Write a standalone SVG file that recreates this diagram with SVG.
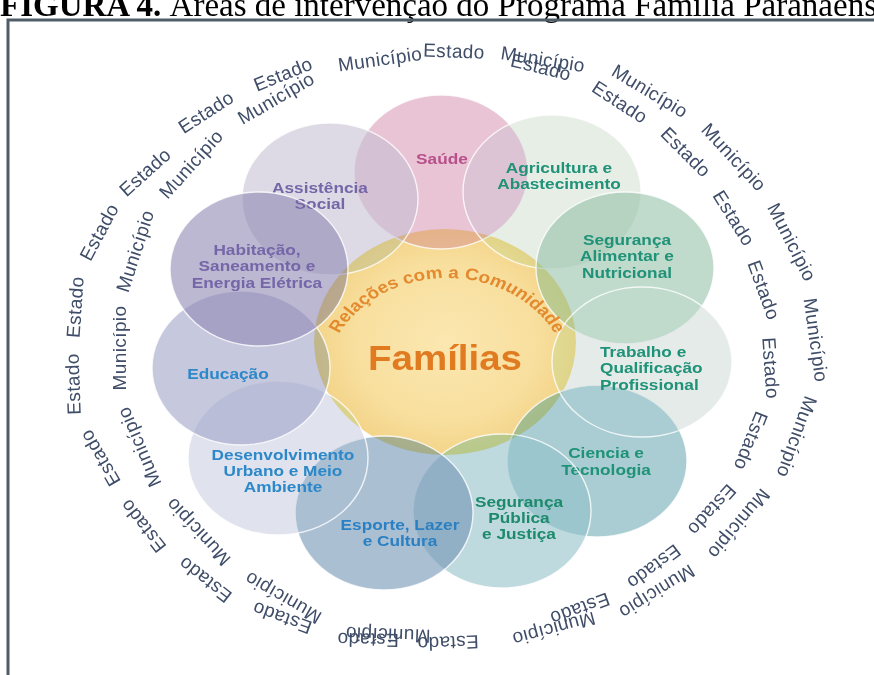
<svg xmlns="http://www.w3.org/2000/svg" width="874" height="675" viewBox="0 0 874 675">
<defs>
<radialGradient id="gYellow" cx="50%" cy="50%" r="50%">
<stop offset="0" stop-color="#fbe7b0"/>
<stop offset="0.7" stop-color="#f8df9e"/>
<stop offset="1" stop-color="#f3d489"/>
</radialGradient>
<path id="arcRel" d="M -107,385 A 107 107 0 0 1 107,385"/>
<style>
.petal{mix-blend-mode:darken;fill-opacity:0.6}
.edge{fill:none;stroke:#ffffff;stroke-width:1.4;stroke-opacity:0.8}
.lbl{font-family:"Liberation Sans",Arial,sans-serif;font-weight:bold;font-size:15px;text-anchor:middle}
.lbls{font-family:"Liberation Sans",Arial,sans-serif;font-weight:bold;font-size:15px;text-anchor:start}
.ring{font-family:"Liberation Sans",Arial,sans-serif;font-size:19px;fill:#3f4d68;text-anchor:middle;letter-spacing:0.4px}
.purple{fill:#7566a8}.blue{fill:#2c88c8}.teal{fill:#1f9278}
</style>
</defs>
<rect width="874" height="675" fill="#ffffff"/>
<text x="0" y="16" font-family="Liberation Serif,Times New Roman,serif" font-size="33" fill="#000"><tspan font-weight="bold">FIGURA 4.</tspan> Áreas de intervenção do Programa Família Paranaense</text>
<path d="M8,675 V20 H874" fill="none" stroke="#4f5d68" stroke-width="3"/>

<g id="ring">
<text class="ring" transform="translate(75,307) rotate(-86)" dy="0.35em">Estado</text>
<text class="ring" transform="translate(135,251) rotate(-72)" dy="0.35em">Município</text>
<text class="ring" transform="translate(99,232) rotate(-62)" dy="0.35em">Estado</text>
<text class="ring" transform="translate(191,164) rotate(-48)" dy="0.35em">Município</text>
<text class="ring" transform="translate(145,172) rotate(-42)" dy="0.35em">Estado</text>
<text class="ring" transform="translate(206,112) rotate(-33)" dy="0.35em">Estado</text>
<text class="ring" transform="translate(276,98) rotate(-30)" dy="0.35em">Município</text>
<text class="ring" transform="translate(283,74) rotate(-22)" dy="0.35em">Estado</text>
<text class="ring" transform="translate(380,59) rotate(-8)" dy="0.35em">Município</text>
<text class="ring" transform="translate(454,51) rotate(2)" dy="0.35em">Estado</text>
<text class="ring" transform="translate(543,59) rotate(9)" dy="0.35em">Município</text>
<text class="ring" transform="translate(541,67) rotate(14)" dy="0.35em">Estado</text>
<text class="ring" transform="translate(650,91) rotate(31)" dy="0.35em">Município</text>
<text class="ring" transform="translate(620,102) rotate(33)" dy="0.35em">Estado</text>
<text class="ring" transform="translate(734,157) rotate(47)" dy="0.35em">Município</text>
<text class="ring" transform="translate(686,152) rotate(45)" dy="0.35em">Estado</text>
<text class="ring" transform="translate(792,242) rotate(63)" dy="0.35em">Município</text>
<text class="ring" transform="translate(734,218) rotate(58)" dy="0.35em">Estado</text>
<text class="ring" transform="translate(764,290) rotate(70)" dy="0.35em">Estado</text>
<text class="ring" transform="translate(816,340) rotate(82)" dy="0.35em">Município</text>
<text class="ring" transform="translate(771,368) rotate(86)" dy="0.35em">Estado</text>
<text class="ring" transform="translate(797,437) rotate(110)" dy="0.35em">Município</text>
<text class="ring" transform="translate(751,441) rotate(112)" dy="0.35em">Estado</text>
<text class="ring" transform="translate(712,510) rotate(132)" dy="0.35em">Estado</text>
<text class="ring" transform="translate(739,524) rotate(130)" dy="0.35em">Município</text>
<text class="ring" transform="translate(654,567) rotate(143)" dy="0.35em">Estado</text>
<text class="ring" transform="translate(657,592) rotate(148)" dy="0.35em">Município</text>
<text class="ring" transform="translate(580,609) rotate(160)" dy="0.35em">Estado</text>
<text class="ring" transform="translate(554,629) rotate(165)" dy="0.35em">Município</text>
<text class="ring" transform="translate(448,643) rotate(178)" dy="0.35em">Estado</text>
<text class="ring" transform="translate(388,635) rotate(182)" dy="0.35em">Município</text>
<text class="ring" transform="translate(368,640) rotate(181)" dy="0.35em">Estado</text>
<text class="ring" transform="translate(283,598) rotate(210)" dy="0.35em">Município</text>
<text class="ring" transform="translate(282,618) rotate(200)" dy="0.35em">Estado</text>
<text class="ring" transform="translate(205,580) rotate(218)" dy="0.35em">Estado</text>
<text class="ring" transform="translate(198,532) rotate(227)" dy="0.35em">Município</text>
<text class="ring" transform="translate(143,526) rotate(232)" dy="0.35em">Estado</text>
<text class="ring" transform="translate(139,447) rotate(247)" dy="0.35em">Município</text>
<text class="ring" transform="translate(100,458) rotate(240)" dy="0.35em">Estado</text>
<text class="ring" transform="translate(73,384) rotate(268)" dy="0.35em">Estado</text>
<text class="ring" transform="translate(119,348) rotate(270)" dy="0.35em">Município</text>
</g>

<g id="familias-base">
<ellipse cx="445" cy="342" rx="131" ry="113" fill="url(#gYellow)"/>
</g>

<g id="saude">
<ellipse class="petal" cx="441" cy="172" rx="87" ry="77" fill="#da9db7"/>
<ellipse class="edge" cx="441" cy="172" rx="87" ry="77"/>
<text class="lbl" transform="translate(442,164) scale(1.15,1)" fill="#b8508b">Saúde</text>
</g>

<g id="agricultura">
<ellipse class="petal" cx="552" cy="192" rx="89" ry="77" fill="#d5e3d5"/>
<ellipse class="edge" cx="552" cy="192" rx="89" ry="77"/>
<text class="lbl teal" transform="translate(559,173) scale(1.15,1)"><tspan x="0" y="0">Agricultura e</tspan><tspan x="0" y="16">Abastecimento</tspan></text>
</g>

<g id="seg-alimentar">
<ellipse class="petal" cx="625" cy="268" rx="89" ry="76" fill="#96c1aa"/>
<ellipse class="edge" cx="625" cy="268" rx="89" ry="76"/>
<text class="lbl teal" transform="translate(627,245) scale(1.15,1)"><tspan x="0" y="0">Segurança</tspan><tspan x="0" y="16.5">Alimentar e</tspan><tspan x="0" y="33">Nutricional</tspan></text>
</g>

<g id="ciencia">
<ellipse class="petal" cx="597" cy="461" rx="90" ry="76" fill="#70acb4"/>
<ellipse class="edge" cx="597" cy="461" rx="90" ry="76"/>
<text class="lbl teal" transform="translate(606,458) scale(1.15,1)"><tspan x="0" y="0">Ciencia e</tspan><tspan x="0" y="17">Tecnologia</tspan></text>
</g>

<g id="trabalho">
<ellipse class="petal" cx="642" cy="362" rx="90" ry="75" fill="#d2deda"/>
<ellipse class="edge" cx="642" cy="362" rx="90" ry="75"/>
<text class="lbls teal" transform="translate(600,357) scale(1.15,1)"><tspan x="0" y="0">Trabalho e</tspan><tspan x="0" y="16.5">Qualificação</tspan><tspan x="0" y="33">Profissional</tspan></text>
</g>

<g id="seg-publica">
<ellipse class="petal" cx="502" cy="511" rx="89" ry="77" fill="#93c1ca"/>
<ellipse class="edge" cx="502" cy="511" rx="89" ry="77"/>
<text class="lbl" transform="translate(519,507) scale(1.15,1)" fill="#1d8a6c"><tspan x="0" y="0">Segurança</tspan><tspan x="0" y="16">Pública</tspan><tspan x="0" y="32">e Justiça</tspan></text>
</g>

<g id="esporte">
<ellipse class="petal" cx="384" cy="513" rx="89" ry="77" fill="#7394b6"/>
<ellipse class="edge" cx="384" cy="513" rx="89" ry="77"/>
<text class="lbl" transform="translate(400,530) scale(1.15,1)" fill="#2a80c2"><tspan x="0" y="0">Esporte, Lazer</tspan><tspan x="0" y="16">e Cultura</tspan></text>
</g>

<g id="desenvolvimento">
<ellipse class="petal" cx="278" cy="458" rx="90" ry="77" fill="#cbd0e1"/>
<ellipse class="edge" cx="278" cy="458" rx="90" ry="77"/>
<text class="lbl blue" transform="translate(283,460) scale(1.15,1)"><tspan x="0" y="0">Desenvolvimento</tspan><tspan x="0" y="16">Urbano e Meio</tspan><tspan x="0" y="32">Ambiente</tspan></text>
</g>

<g id="educacao">
<ellipse class="petal" cx="241" cy="368" rx="89" ry="77" fill="#a0a3c8"/>
<ellipse class="edge" cx="241" cy="368" rx="89" ry="77"/>
<text class="lbl blue" transform="translate(228,379) scale(1.15,1)">Educação</text>
</g>

<g id="assistencia">
<ellipse class="petal" cx="330" cy="199" rx="88" ry="76" fill="#c6c1d4"/>
<ellipse class="edge" cx="330" cy="199" rx="88" ry="76"/>
<text class="lbl purple" transform="translate(320,193) scale(1.15,1)"><tspan x="0" y="0">Assistência</tspan><tspan x="0" y="16">Social</tspan></text>
</g>

<g id="habitacao">
<ellipse class="petal" cx="259" cy="269" rx="89" ry="77" fill="#9189b4"/>
<ellipse class="edge" cx="259" cy="269" rx="89" ry="77"/>
<text class="lbl purple" transform="translate(257,255) scale(1.15,1)"><tspan x="0" y="0">Habitação,</tspan><tspan x="0" y="16.5">Saneamento e</tspan><tspan x="0" y="33">Energia Elétrica</tspan></text>
</g>

<g id="familias">
<text transform="translate(447,0) scale(1.15,1)" font-family="Liberation Sans,Arial,sans-serif" font-weight="bold" font-size="16.5" fill="#e48a2e"><textPath href="#arcRel" startOffset="50%" text-anchor="middle">Relações com a Comunidade</textPath></text>
<text transform="translate(445,370) scale(1.1,1)" font-family="Liberation Sans,Arial,sans-serif" font-weight="bold" font-size="35" fill="#e07b22" text-anchor="middle">Famílias</text>
</g>
</svg>
